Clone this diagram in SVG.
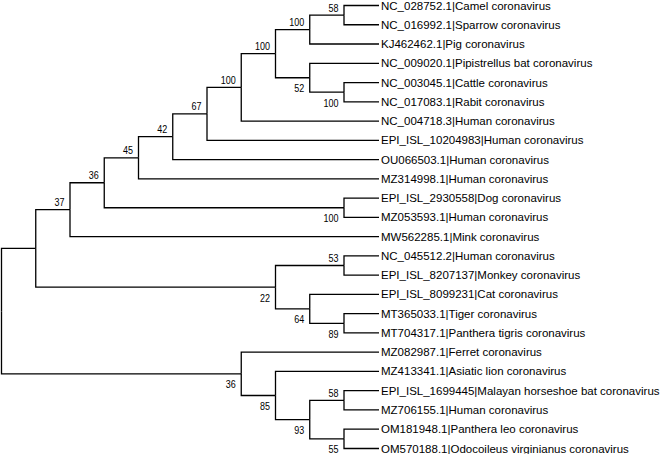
<svg xmlns="http://www.w3.org/2000/svg" width="661" height="454" viewBox="0 0 661 454">
<style>
.e{fill:none;stroke:#000;stroke-width:1.3;}
.t{font-family:"Liberation Sans",Arial,sans-serif;font-size:11.5px;fill:#000;}
.b{font-family:"Liberation Sans",Arial,sans-serif;font-size:11px;fill:#000;text-anchor:end;}
</style>
<rect width="661" height="454" fill="#fff"/>
<g id="connectors">
<path class="e" d="M1.5 311.15V248.44H35.75"/>
<path class="e" d="M1.5 311.15V373.85H241.25"/>
<path class="e" d="M35.75 248.44V209.69H70"/>
<path class="e" d="M35.75 248.44V287.18H275.5"/>
<path class="e" d="M70 209.69V182.76H104.25"/>
<path class="e" d="M70 209.69V236.62H379"/>
<path class="e" d="M104.25 182.76V157.78H138.5"/>
<path class="e" d="M104.25 182.76V207.73H344"/>
<path class="e" d="M138.5 157.78V136.71H172.75"/>
<path class="e" d="M138.5 157.78V178.84H379"/>
<path class="e" d="M172.75 136.71V113.84H207"/>
<path class="e" d="M172.75 136.71V159.58H379"/>
<path class="e" d="M207 113.84V87.36H241.25"/>
<path class="e" d="M207 113.84V140.32H379"/>
<path class="e" d="M241.25 87.36V53.65H275.5"/>
<path class="e" d="M241.25 87.36V121.06H379"/>
<path class="e" d="M275.5 53.65V29.58H309.75"/>
<path class="e" d="M275.5 53.65V77.73H309.75"/>
<path class="e" d="M309.75 29.58V15.13H344"/>
<path class="e" d="M309.75 29.58V44.02H379"/>
<path class="e" d="M344 15.13V5.5H379"/>
<path class="e" d="M344 15.13V24.76H379"/>
<path class="e" d="M309.75 77.73V63.28H379"/>
<path class="e" d="M309.75 77.73V92.17H344"/>
<path class="e" d="M344 92.17V82.54H379"/>
<path class="e" d="M344 92.17V101.8H379"/>
<path class="e" d="M344 207.73V198.1H379"/>
<path class="e" d="M344 207.73V217.36H379"/>
<path class="e" d="M275.5 287.18V265.51H344"/>
<path class="e" d="M275.5 287.18V308.85H309.75"/>
<path class="e" d="M344 265.51V255.88H379"/>
<path class="e" d="M344 265.51V275.14H379"/>
<path class="e" d="M309.75 308.85V294.4H379"/>
<path class="e" d="M309.75 308.85V323.29H344"/>
<path class="e" d="M344 323.29V313.66H379"/>
<path class="e" d="M344 323.29V332.92H379"/>
<path class="e" d="M241.25 373.85V352.18H379"/>
<path class="e" d="M241.25 373.85V395.52H275.5"/>
<path class="e" d="M275.5 395.52V371.44H379"/>
<path class="e" d="M275.5 395.52V419.59H309.75"/>
<path class="e" d="M309.75 419.59V400.33H344"/>
<path class="e" d="M309.75 419.59V438.85H344"/>
<path class="e" d="M344 400.33V390.7H379"/>
<path class="e" d="M344 400.33V409.96H379"/>
<path class="e" d="M344 438.85V429.22H379"/>
<path class="e" d="M344 438.85V448.48H379"/>
</g>
<g id="node-M"><text class="b" x="64.5" y="206.2" textLength="10" lengthAdjust="spacingAndGlyphs">37</text></g>
<g id="node-K"><text class="b" x="98.75" y="179.3" textLength="10" lengthAdjust="spacingAndGlyphs">36</text></g>
<g id="node-I"><text class="b" x="133" y="154.3" textLength="10" lengthAdjust="spacingAndGlyphs">45</text></g>
<g id="node-H"><text class="b" x="167.25" y="133.2" textLength="10" lengthAdjust="spacingAndGlyphs">42</text></g>
<g id="node-G"><text class="b" x="201.5" y="110.3" textLength="10" lengthAdjust="spacingAndGlyphs">67</text></g>
<g id="node-F"><text class="b" x="235.75" y="83.9" textLength="15" lengthAdjust="spacingAndGlyphs">100</text></g>
<g id="node-E"><text class="b" x="270" y="50.2" textLength="15" lengthAdjust="spacingAndGlyphs">100</text></g>
<g id="node-B"><text class="b" x="304.25" y="26.1" textLength="15" lengthAdjust="spacingAndGlyphs">100</text></g>
<g id="node-A"><text class="b" x="338.5" y="11.6" textLength="10" lengthAdjust="spacingAndGlyphs">58</text></g>
<g id="node-D"><text class="b" x="304.25" y="92.2" textLength="10" lengthAdjust="spacingAndGlyphs">52</text></g>
<g id="node-C"><text class="b" x="338.5" y="106.7" textLength="15" lengthAdjust="spacingAndGlyphs">100</text></g>
<g id="node-J"><text class="b" x="338.5" y="222.2" textLength="15" lengthAdjust="spacingAndGlyphs">100</text></g>
<g id="node-N"><text class="b" x="338.5" y="262" textLength="10" lengthAdjust="spacingAndGlyphs">53</text></g>
<g id="node-Q"><text class="b" x="270" y="301.7" textLength="10" lengthAdjust="spacingAndGlyphs">22</text></g>
<g id="node-P"><text class="b" x="304.25" y="323.4" textLength="10" lengthAdjust="spacingAndGlyphs">64</text></g>
<g id="node-O"><text class="b" x="338.5" y="337.8" textLength="10" lengthAdjust="spacingAndGlyphs">89</text></g>
<g id="node-W"><text class="b" x="235.75" y="388.4" textLength="10" lengthAdjust="spacingAndGlyphs">36</text></g>
<g id="node-V"><text class="b" x="270" y="410" textLength="10" lengthAdjust="spacingAndGlyphs">85</text></g>
<g id="node-U"><text class="b" x="304.25" y="434.1" textLength="10" lengthAdjust="spacingAndGlyphs">93</text></g>
<g id="node-S"><text class="b" x="338.5" y="396.8" textLength="10" lengthAdjust="spacingAndGlyphs">58</text></g>
<g id="node-T"><text class="b" x="338.5" y="452.5" textLength="10" lengthAdjust="spacingAndGlyphs">55</text></g>
<g id="leaf-01"><text class="t" x="381" y="9.5">NC_028752.1|Camel coronavirus</text></g>
<g id="leaf-02"><text class="t" x="381" y="28.8">NC_016992.1|Sparrow coronavirus</text></g>
<g id="leaf-03"><text class="t" x="381" y="48">KJ462462.1|Pig coronavirus</text></g>
<g id="leaf-04"><text class="t" x="381" y="67.3">NC_009020.1|Pipistrellus bat coronavirus</text></g>
<g id="leaf-05"><text class="t" x="381" y="86.5">NC_003045.1|Cattle coronavirus</text></g>
<g id="leaf-06"><text class="t" x="381" y="105.8">NC_017083.1|Rabit coronavirus</text></g>
<g id="leaf-07"><text class="t" x="381" y="125.1">NC_004718.3|Human coronavirus</text></g>
<g id="leaf-08"><text class="t" x="381" y="144.3">EPI_ISL_10204983|Human coronavirus</text></g>
<g id="leaf-09"><text class="t" x="381" y="163.6">OU066503.1|Human coronavirus</text></g>
<g id="leaf-10"><text class="t" x="381" y="182.8">MZ314998.1|Human coronavirus</text></g>
<g id="leaf-11"><text class="t" x="381" y="202.1">EPI_ISL_2930558|Dog coronavirus</text></g>
<g id="leaf-12"><text class="t" x="381" y="221.4">MZ053593.1|Human coronavirus</text></g>
<g id="leaf-13"><text class="t" x="381" y="240.6">MW562285.1|Mink coronavirus</text></g>
<g id="leaf-14"><text class="t" x="381" y="259.9">NC_045512.2|Human coronavirus</text></g>
<g id="leaf-15"><text class="t" x="381" y="279.1">EPI_ISL_8207137|Monkey coronavirus</text></g>
<g id="leaf-16"><text class="t" x="381" y="298.4">EPI_ISL_8099231|Cat coronavirus</text></g>
<g id="leaf-17"><text class="t" x="381" y="317.7">MT365033.1|Tiger coronavirus</text></g>
<g id="leaf-18"><text class="t" x="381" y="336.9">MT704317.1|Panthera tigris coronavirus</text></g>
<g id="leaf-19"><text class="t" x="381" y="356.2">MZ082987.1|Ferret coronavirus</text></g>
<g id="leaf-20"><text class="t" x="381" y="375.4">MZ413341.1|Asiatic lion coronavirus</text></g>
<g id="leaf-21"><text class="t" x="381" y="394.7">EPI_ISL_1699445|Malayan horseshoe bat coronavirus</text></g>
<g id="leaf-22"><text class="t" x="381" y="414">MZ706155.1|Human coronavirus</text></g>
<g id="leaf-23"><text class="t" x="381" y="433.2">OM181948.1|Panthera leo coronavirus</text></g>
<g id="leaf-24"><text class="t" x="381" y="452.5">OM570188.1|Odocoileus virginianus coronavirus</text></g>
</svg>
